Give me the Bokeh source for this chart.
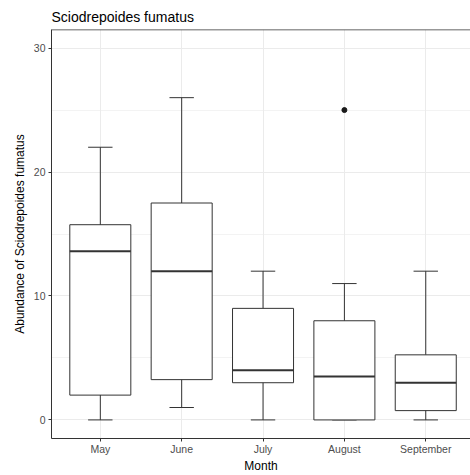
from bokeh.plotting import figure
from bokeh.models import Range1d, FixedTicker, Span
from bokeh.embed import file_html
from bokeh.resources import INLINE

months = ["May", "June", "July", "August", "September"]
lower = [0, 1, 0, 0, 0]
q1 = [2, 3.25, 3, 0, 0.75]
median = [13.6, 12, 4, 3.5, 3]
q3 = [15.75, 17.5, 9, 8, 5.25]
upper = [22, 26, 12, 11, 12]
outlier_month = ["August"]
outlier_value = [25]
y_ticks = [0, 10, 20, 30]
y_minor = [5, 15, 25]

xs = [i + 1 for i in range(len(months))]
box_w = 0.75
cap_w = 0.3

p = figure(width=470, height=475, output_backend="svg", toolbar_location=None,
           x_range=Range1d(0.4, 5.55), y_range=Range1d(-1.5, 31.5),
           min_border_left=51, min_border_right=0, min_border_bottom=36, min_border_top=29)

p.title.text = "Sciodrepoides fumatus"
p.title.text_font = "Liberation Sans"
p.title.text_font_size = "14px"
p.title.text_font_style = "normal"
p.title.text_color = "black"
p.title.offset = 0

p.background_fill_color = "white"
p.border_fill_color = "white"
p.outline_line_color = None

# grids
p.xgrid.ticker = FixedTicker(ticks=xs)
p.xgrid.grid_line_color = "#EBEBEB"
p.xgrid.grid_line_width = 1
p.ygrid.ticker = FixedTicker(ticks=y_ticks, minor_ticks=y_minor)
p.ygrid.grid_line_color = "#EBEBEB"
p.ygrid.grid_line_width = 1
p.ygrid.minor_grid_line_color = "#EBEBEB"
p.ygrid.minor_grid_line_width = 0.6

# axes
p.xaxis.ticker = FixedTicker(ticks=xs)
p.xaxis.major_label_overrides = {x: m for x, m in zip(xs, months)}
p.yaxis.ticker = FixedTicker(ticks=y_ticks)
for ax in (p.xaxis[0], p.yaxis[0]):
    ax.axis_line_color = "#333333"
    ax.axis_line_width = 1
    ax.major_tick_line_color = "#333333"
    ax.major_tick_in = 0
    ax.major_tick_out = 3
    ax.minor_tick_line_color = None
    ax.major_label_text_font = "Liberation Sans"
    ax.major_label_text_font_size = "10.5px"
    ax.major_label_text_color = "#4D4D4D"
    ax.axis_label_text_font = "Liberation Sans"
    ax.axis_label_text_font_size = "12px"
    ax.axis_label_text_font_style = "normal"
    ax.axis_label_text_color = "black"
    ax.major_label_standoff = 3
p.xaxis.major_label_standoff = 1
p.xaxis.axis_label = "Month"
p.xaxis.axis_label_standoff = 1
p.yaxis.axis_label = "Abundance of Sciodrepoides fumatus"
p.yaxis.axis_label_standoff = 4

# top panel border
p.add_layout(Span(location=31.5, dimension="width", line_color="#333333", line_width=1.5))

line_c = "#333333"

# whiskers
p.segment(x0=xs, y0=lower, x1=xs, y1=upper, line_color=line_c, line_width=1)
p.segment(x0=[x - cap_w / 2 for x in xs], y0=lower, x1=[x + cap_w / 2 for x in xs], y1=lower,
          line_color=line_c, line_width=1)
p.segment(x0=[x - cap_w / 2 for x in xs], y0=upper, x1=[x + cap_w / 2 for x in xs], y1=upper,
          line_color=line_c, line_width=1)

# boxes
p.vbar(x=xs, width=box_w, bottom=q1, top=q3, fill_color="white", line_color=line_c, line_width=1)
p.segment(x0=[x - box_w / 2 for x in xs], y0=median, x1=[x + box_w / 2 for x in xs], y1=median,
          line_color=line_c, line_width=2)

# outliers
ox = [xs[months.index(m)] for m in outlier_month]
p.scatter(x=ox, y=outlier_value, size=5, fill_color="#1A1A1A", line_color="#1A1A1A")

open("out.html", "w").write(file_html(p, INLINE))
